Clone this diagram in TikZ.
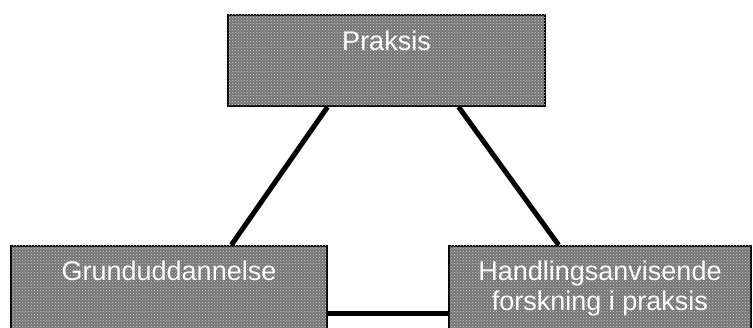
\documentclass[tikz,border=0pt]{standalone}
\usepackage{fontspec}
\setmainfont{Liberation Sans}
\usetikzlibrary{patterns,calc}
\tikzset{
  box/.style={draw=black, line width=2pt, fill=black!55, postaction={pattern=crosshatch dots, pattern color=white!85!black}},
  link/.style={line width=5pt, black},
  lbl/.style={font=\fontsize{27}{30}\selectfont, text=white, align=center, inner sep=0pt, anchor=north}
}
\begin{document}
\begin{tikzpicture}[x=1pt,y=-1pt]
\clip (0,0) rectangle (753,328);
\fill[white] (0,0) rectangle (753,328);
\node[box, anchor=north west, minimum width=317pt, minimum height=91pt, inner sep=0pt] (P) at (227,14) {};
\node[box, anchor=north west, minimum width=316pt, minimum height=90pt, inner sep=0pt] (G) at (10,245) {};
\node[box, anchor=north west, minimum width=302pt, minimum height=90pt, inner sep=0pt] (H) at (448,245) {};
\node[lbl] (tP) at ($(P.north)+(0,17)$) {Praksis};
\node[lbl] (tG) at ($(G.north)+(0,16)$) {Grunduddannelse};
\node[lbl] (tH) at ($(H.north)+(0,16)$) {Handlingsanvisende\\forskning i praksis};
\draw[link] ($(P.south west)!0.315!(P.south east)$) -- ($(G.north west)!0.696!(G.north east)$);
\draw[link] ($(P.south west)!0.726!(P.south east)$) -- ($(H.north west)!0.364!(H.north east)$);
\draw[link] ($(G.north east)!0.74!(G.south east)$) -- ($(H.north west)!0.74!(H.south west)$);
\end{tikzpicture}
\end{document}
